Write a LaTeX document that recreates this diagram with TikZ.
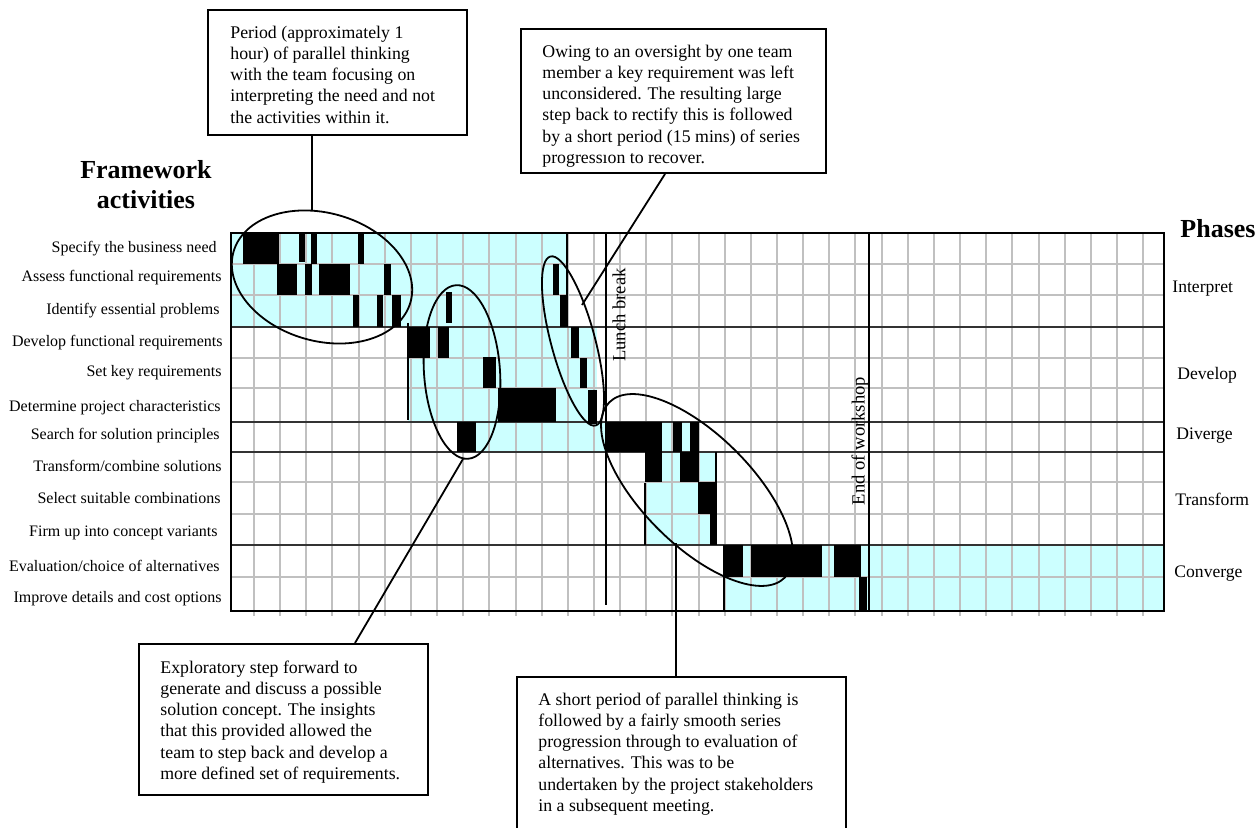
\documentclass[tikz,border=0pt]{standalone}
\usepackage{fontspec}
\setmainfont{Liberation Serif}
\usetikzlibrary{shapes.geometric}
\definecolor{lightcyan}{HTML}{CCFFFF}
\definecolor{gridgray}{HTML}{C0C0C0}
\begin{document}
\begin{tikzpicture}[x=0.5pt,y=-0.5pt,
  cyanblock/.style={fill=lightcyan},
  bar/.style={fill=black},
  gridline/.style={draw=gridgray,line width=1pt},
  phaseline/.style={draw=black!80,line width=0.7pt},
  edgeline/.style={draw=black,line width=0.8pt},
  event/.style={draw=black,line width=0.9pt},
  loop/.style={draw=black,line width=0.9pt,ellipse,inner sep=0pt},
  callout/.style={draw=black,line width=1pt,inner sep=0pt},
  note/.style={font=\fontsize{8.9}{10.6}\selectfont,align=left,anchor=north west,inner sep=0pt},
  activity/.style={font=\fontsize{8}{9.6}\selectfont,anchor=base east,inner sep=0pt},
  phase/.style={font=\fontsize{8.8}{10.5}\selectfont,anchor=base west,inner sep=0pt},
  title/.style={font=\fontsize{13}{15}\selectfont\bfseries,align=center,inner sep=0pt},
  eventlabel/.style={font=\fontsize{9.3}{11}\selectfont,rotate=90,inner sep=0pt},
  link/.style={draw=black,line width=0.9pt}
]
\useasboundingbox (0,0) rectangle (1259,828);

% cyan blocks
\fill[cyanblock] (231,233) rectangle (567,327);
\fill[cyanblock] (408,327) rectangle (597,422);
\fill[cyanblock] (457,422) rectangle (700,452);
\fill[cyanblock] (645,452) rectangle (716,545);
\fill[cyanblock] (724,545) rectangle (1164,611);

% grid
\foreach \k in {0,...,34} {
  \draw[gridline] ({254+26.15*\k},233) -- ({254+26.15*\k},616);
}
\foreach \y in {264,295,358,388,482,514,577} {
  \draw[gridline] (231,\y) -- (1164,\y);
}
\foreach \y in {327,422,452,545} {
  \draw[phaseline] (231,\y) -- (1164,\y);
}

% black bars
\def\bars{243/279/233/264, 299/305/233/262, 311/317/233/264, 358/364/233/264,
  277/297/264/295, 305/312/264/295, 319/350/264/295, 384/391/264/295, 553/559/264/295,
  353/359/295/327, 377/383/295/327, 392/401/295/327, 446/452/292/323, 560/567/295/327,
  408/430/327/358, 438/449/327/358, 571/579/327/358,
  483/496/357/388, 580/587/358/388,
  498/556/388/422, 588/597/390/424,
  457/476/422/452, 605/662/422/452, 673/682/422/452, 690/699/422/452,
  645/662/452/482, 680/699/452/482,
  698/716/482/514,
  710/716/514/545,
  723/743/545/577, 751/822/545/577, 834/861/545/577,
  859/867/577/610}
\foreach \xa/\xb/\ya/\yb in \bars {
  \fill[bar] (\xa,\ya) rectangle (\xb,\yb);
}

% block edge lines
\draw[edgeline] (567,233) -- (567,327);
\draw[edgeline] (408,323) -- (408,420);
\draw[edgeline] (645,483) -- (645,545);
\draw[edgeline] (716,452) -- (716,545);
\draw[edgeline] (724,545) -- (724,611);

% outer frame
\draw[draw=black,line width=1.2pt] (231,233) rectangle (1164,611);

% event lines
\coordinate (lunchtop) at (606,233);
\coordinate (lunchbot) at (606,605);
\draw[event] (lunchtop) -- (lunchbot);
\node[eventlabel] (lunch) at (619,315) {Lunch break};
\coordinate (endtop) at (869,233);
\coordinate (endbot) at (869,611);
\draw[event] (endtop) -- (endbot);
\node[eventlabel] (endws) at (860,441) {End of workshop};

% titles
\node[title] (fwtitle) at (146,185) {Framework\\activities};
\node[font=\fontsize{13}{15}\selectfont\bfseries,anchor=base east,inner sep=0pt] (phtitle) at (1256,238) {Phases};

% activity labels
\node[activity] (a1) at (217,253) {Specify the business need};
\node[activity] (a2) at (222,282) {Assess functional requirements};
\node[activity] (a3) at (220,315) {Identify essential problems};
\node[activity] (a4) at (223,347) {Develop functional requirements};
\node[activity] (a5) at (222,377) {Set key requirements};
\node[activity] (a6) at (221,412) {Determine project characteristics};
\node[activity] (a7) at (220,440) {Search for solution principles};
\node[activity] (a8) at (222,472) {Transform/combine solutions};
\node[activity] (a9) at (221,504) {Select suitable combinations};
\node[activity] (a10) at (218,537) {Firm up into concept variants};
\node[activity] (a11) at (220,572) {Evaluation/choice of alternatives};
\node[activity] (a12) at (222,603) {Improve details and cost options};

% phase labels
\node[phase] (p1) at (1172,293) {Interpret};
\node[phase] (p2) at (1177,380) {Develop};
\node[phase] (p3) at (1176,440) {Diverge};
\node[phase] (p4) at (1175,506) {Transform};
\node[phase] (p5) at (1174,578) {Converge};

% ellipses
\node[loop,minimum width=92pt,minimum height=64pt,rotate=-16] (e1) at (322,277) {};
\node[loop,minimum width=38pt,minimum height=87pt,rotate=4] (e2) at (462,372) {};
\node[loop,minimum width=22pt,minimum height=87.5pt,rotate=15] (e3) at (573,341) {};
\node[loop,minimum width=124pt,minimum height=55pt,rotate=-45] (e4) at (697,490) {};

% callout boxes
\node[callout,minimum width=129.5pt,minimum height=62.5pt] (c1) at (337.5,72.5) {};
\node[note] (t1) at (230,23) {\strut Period (approximately 1\\hour) of parallel thinking\\with the team focusing on\\interpreting the need and not\\the activities within it.};

\node[callout,minimum width=152.5pt,minimum height=72pt] (c2) at (673.5,101) {};
\begin{scope}
\clip (521,29) rectangle (826,147) (521,153) rectangle (826,173);
\node[note] (t2) at (542,42) {\strut Owing to an oversight by one team\\member a key requirement was left\\unconsidered. The resulting large\\step back to rectify this is followed\\by a short period (15 mins) of series\\progression to recover.};
\end{scope}

\node[callout,minimum width=144.5pt,minimum height=75.5pt] (c3) at (283.5,719.5) {};
\node[note] (t3) at (160,658) {\strut Exploratory step forward to\\generate and discuss a possible\\solution concept. The insights\\that this provided allowed the\\team to step back and develop a\\more defined set of requirements.};

\node[callout,minimum width=164.5pt,minimum height=82pt] (c4) at (681.5,759) {};
\node[note] (t4) at (538,690) {\strut A short period of parallel thinking is\\followed by a fairly smooth series\\progression through to evaluation of\\alternatives. This was to be\\undertaken by the project stakeholders\\in a subsequent meeting.};

% connectors
\coordinate (k1) at (312,211);
\coordinate (k2) at (582,305);
\coordinate (k3) at (463,459);
\coordinate (k4) at (676,543);
\draw[link] (c1.south -| k1) -- (k1);
\draw[link] (c2.south -| 665,0) -- (k2);
\draw[link] (c3.north -| 355,0) -- (k3);
\draw[link] (c4.north -| k4) -- (k4);
\end{tikzpicture}
\end{document}
